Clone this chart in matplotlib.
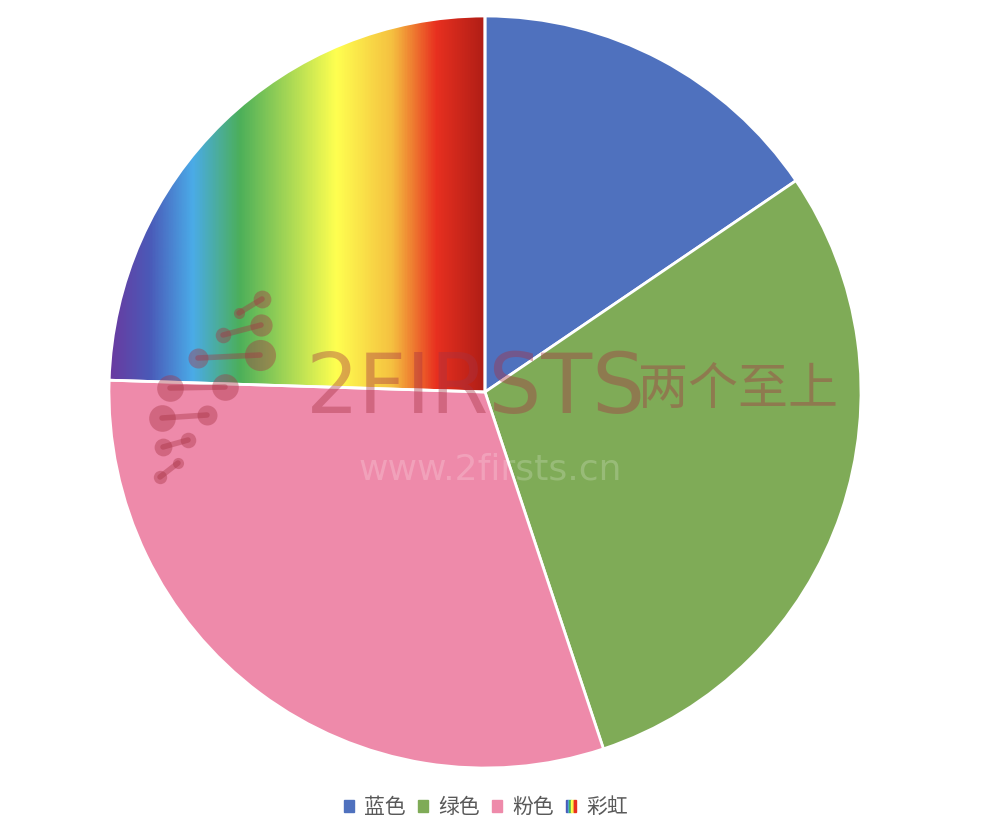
import numpy as np
import matplotlib
matplotlib.use("Agg")
import matplotlib.pyplot as plt
from matplotlib.patches import Patch
from matplotlib.legend_handler import HandlerTuple
from matplotlib.colors import LinearSegmentedColormap

plt.rcParams['font.family'] = ['Noto Sans CJK SC', 'DejaVu Sans']

labels = ['蓝色', '绿色', '粉色', '彩虹']
values = [15.5, 29.4, 30.6, 24.5]
colors = ['#4f71be', '#7fab57', '#ee8aaa', 'none']

rainbow_stops = [0.0, 0.107, 0.221, 0.347, 0.605, 0.755, 0.872, 1.0]
rainbow_colors = ['#6a3aa0', '#4a5ab8', '#4aabe8', '#4caf5a', '#ffff50',
                  '#f5c040', '#e83020', '#b01e16']

W, H = 982, 838
fig = plt.figure(figsize=(W / 100, H / 100), dpi=100)
ax = fig.add_axes([0, 0, 1, 1])

cx, cy, r = 485, H - 392, 376
wedges, _ = ax.pie(values, colors=colors, startangle=90, counterclock=False,
                   center=(cx, cy), radius=r, frame=True,
                   wedgeprops=dict(edgecolor='white', linewidth=2))

# rainbow fill for the last slice, clipped to its wedge
cmap = LinearSegmentedColormap.from_list('rb', list(zip(rainbow_stops, rainbow_colors)))
grad = np.linspace(0, 1, 400).reshape(1, -1)
im = ax.imshow(grad, cmap=cmap, aspect='auto', extent=(cx - r, cx, cy, cy + r),
               zorder=0.5, interpolation='bilinear')
im.set_clip_path(wedges[3])
for w in wedges:
    w.set_zorder(1)

# watermark
wm = '#a73243'
ax.text(476, H - 390, '2FIRSTS', fontsize=60, color=wm, alpha=0.4, ha='center',
        va='center', family=['Liberation Sans Narrow', 'DejaVu Sans'])
ax.text(738, H - 390, '两个至上', fontsize=36, color=wm, alpha=0.4, ha='center',
        va='center')
ax.text(490, H - 470, 'www.2firsts.cn', fontsize=26, color='white', alpha=0.2,
        ha='center', va='center', family='DejaVu Sans')
logo = [((262, 299), 8, (239, 313), 5), ((261, 325), 10, (223, 335), 7),
        ((260, 355), 14, (198, 358), 9), ((225, 387), 12, (170, 388), 12),
        ((207, 415), 9, (162, 418), 12), ((188, 440), 7, (163, 447), 8),
        ((178, 463), 5, (160, 477), 6)]
for (x1, y1), s1, (x2, y2), s2 in logo:
    ax.plot([x1, x2], [H - y1, H - y2], color=wm, alpha=0.4, lw=4,
            solid_capstyle='round', zorder=3)
    ax.plot([x1], [H - y1], 'o', ms=s1 * 1.6, color=wm, alpha=0.4, mec='none', zorder=3)
    ax.plot([x2], [H - y2], 'o', ms=s2 * 1.6, color=wm, alpha=0.4, mec='none', zorder=3)

ax.set_xlim(0, W)
ax.set_ylim(0, H)
ax.set_aspect('equal')
ax.axis('off')

handles = [Patch(color=c) for c in colors[:3]]
rb_handle = tuple(Patch(color=c) for c in ['#4a5ab8', '#4aabe8', '#4caf5a', '#ffff50', '#f5c040', '#e83020'])
handles.append(rb_handle)
fig.legend(handles, labels, loc='center', bbox_to_anchor=(486 / W, 1 - 807 / H),
           ncol=4, frameon=False, fontsize=15, labelcolor='#595959',
           handlelength=0.5, handleheight=0.5, handletextpad=0.5,
           columnspacing=0.55,
           handler_map={tuple: HandlerTuple(ndivide=None, pad=0)})

fig.savefig('out.png', dpi=100)
